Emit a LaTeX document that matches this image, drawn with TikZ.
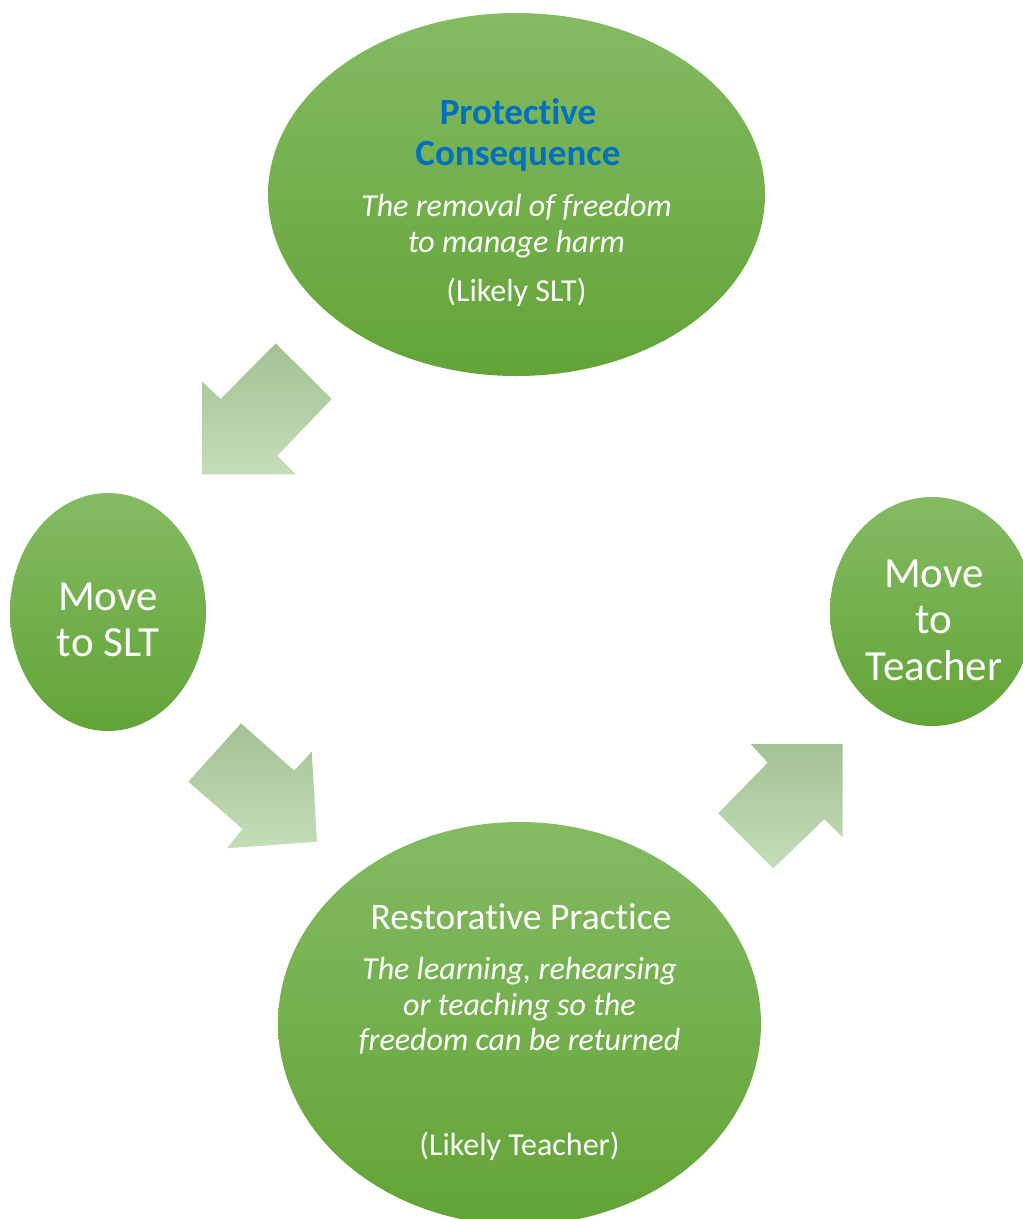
\documentclass[tikz,border=0pt]{standalone}
\usepackage{fontspec}
\setmainfont{Carlito}[Ligatures=NoCommon]
\usetikzlibrary{shapes.geometric}
\definecolor{gtop}{RGB}{132,187,99}
\definecolor{gbot}{RGB}{98,164,54}
\definecolor{atop}{RGB}{162,193,147}
\definecolor{abot}{RGB}{197,221,186}
\definecolor{headblue}{RGB}{0,112,192}
\tikzset{
  bubble/.style={ellipse, inner sep=0pt, top color=gtop, bottom color=gbot, draw=none},
  blockarrow/.style={top color=atop, bottom color=abot, draw=none},
  txt/.style={text=white, align=center, inner sep=0pt},
}
\begin{document}
\begin{tikzpicture}[x=1pt,y=-1pt]
\useasboundingbox (0,0) rectangle (1023,1219);
\begin{scope}
\clip (0,0) rectangle (1023,1219);
% ellipses
\node[bubble, minimum width=497pt, minimum height=363pt] (top) at (516.5,194.5) {};
\node[bubble, minimum width=196pt, minimum height=238pt] (left) at (108,612) {};
\node[bubble, minimum width=204pt, minimum height=229pt] (right) at (932,611.5) {};
\node[bubble, minimum width=483pt, minimum height=403pt] (bottom) at (519.5,1023.5) {};
% block arrows
\shade[blockarrow] (275.7,343.3) -- (331.7,399) -- (277.3,455.7) -- (296,474.3) -- (202.3,474.3) -- (202.3,381.7) -- (220.7,399) -- cycle;
\shade[blockarrow] (241,723.3) -- (294.3,770.7) -- (311.7,751.7) -- (317,841.7) -- (226.7,848.3) -- (242.7,829) -- (188.3,781.7) -- cycle;
\shade[blockarrow] (750.7,744) -- (842.7,744) -- (842.7,837.3) -- (824.3,819.3) -- (773.3,868.3) -- (718.3,813.3) -- (767.7,762.7) -- cycle;
\end{scope}
% texts
\node[txt, text=headblue, font=\fontsize{37}{41}\selectfont\bfseries] (tophead) at (518,135) {Protective\\Consequence};
\node[txt, font=\fontsize{32}{36}\selectfont\itshape] (topsub) at (516.5,226) {The removal of freedom\\to manage harm};
\node[txt, font=\fontsize{32}{36}\selectfont] (topwho) at (516.5,292) {(Likely SLT)};
\node[txt, font=\fontsize{43}{46}\selectfont] (lefttxt) at (108,620) {Move\\to SLT};
\node[txt, font=\fontsize{43}{46.5}\selectfont] (righttxt) at (934,620) {Move\\to\\Teacher};
\node[txt, font=\fontsize{37.5}{40}\selectfont] (bothead) at (521,917) {Restorative Practice};
\node[txt, font=\fontsize{32}{35.5}\selectfont\itshape] (botsub) at (519.5,1006) {The learning, rehearsing\\or teaching so the\\freedom can be returned};
\node[txt, font=\fontsize{32}{36}\selectfont] (botwho) at (519.5,1146) {(Likely Teacher)};
\end{tikzpicture}
\end{document}
